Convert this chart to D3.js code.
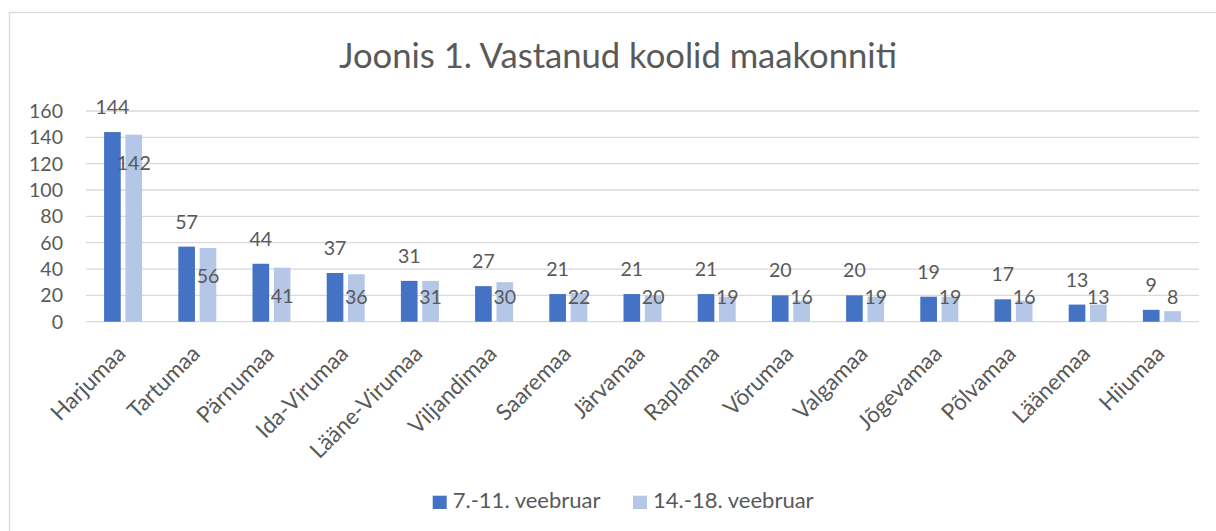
<!DOCTYPE html>
<html>
<head>
<meta charset="utf-8">
<script src="https://cdn.jsdelivr.net/npm/d3@7"></script>
<style>
  body { margin: 0; background: #fff; }
  svg text { font-family: Lato, "Open Sans", sans-serif; fill: #595959; }
</style>
</head>
<body>
<svg id="chart" width="1216" height="531"></svg>
<script>
// data
let categories = ['Harjumaa', 'Tartumaa', 'Pärnumaa', 'Ida-Virumaa', 'Lääne-Virumaa', 'Viljandimaa',
    'Saaremaa', 'Järvamaa', 'Raplamaa', 'Võrumaa', 'Valgamaa', 'Jõgevamaa', 'Põlvamaa', 'Läänemaa', 'Hiiumaa']
let week1 = [144, 57, 44, 37, 31, 27, 21, 21, 21, 20, 20, 19, 17, 13, 9]
let week2 = [142, 56, 41, 36, 31, 30, 22, 20, 19, 16, 19, 19, 16, 13, 8]
let seriesNames = ['7.-11. veebruar', '14.-18. veebruar']
let yTicks = [0, 20, 40, 60, 80, 100, 120, 140, 160]
let title = 'Joonis 1. Vastanud koolid maakonniti'

let colors = ['#4472C4', '#B4C7E7']

let svg = d3.select('#chart')

// pick a font size so a string gets a wanted width
fitSize = (str, target) => {
    let t = svg.append('text').attr('font-size', 100).text(str)
    let w = t.node().getComputedTextLength()
    t.remove()
    return 100 * target / w
}

let labelSize = fitSize('160', 34)
let catSize = labelSize * 1.15
let titleSize = fitSize(title, 558)
let legendSize = fitSize(seriesNames[0], 148)

// chart border (only top and left are in view)
svg.append('rect')
    .attr('x', 9.5).attr('y', 12.5)
    .attr('width', 1300).attr('height', 600)
    .attr('fill', 'none')
    .attr('stroke', '#D9D9D9')
    .attr('stroke-width', 1.3)

svg.append('text')
    .attr('x', 618).attr('y', 68)
    .attr('text-anchor', 'middle')
    .attr('font-size', titleSize)
    .text(title)

let x = d3.scaleBand()
    .domain(categories)
    .range([86, 1199])

let x1 = d3.scaleBand()
    .domain([0, 1])
    .range([x.bandwidth() / 2 - 19, x.bandwidth() / 2 + 19])
    .paddingInner(0.22)

let y = d3.scaleLinear()
    .domain([0, 160])
    .range([321.7, 111])

// gridlines
svg.append('g')
    .selectAll('line')
    .data(yTicks)
    .enter().append('line')
    .attr('x1', 86).attr('x2', 1199)
    .attr('y1', d => y(d)).attr('y2', d => y(d))
    .attr('stroke', '#D9D9D9')
    .attr('stroke-width', 1.3)

// y axis labels
svg.append('g')
    .selectAll('text')
    .data(yTicks)
    .enter().append('text')
    .attr('x', 63)
    .attr('y', d => y(d))
    .attr('dy', '0.36em')
    .attr('text-anchor', 'end')
    .attr('font-size', labelSize)
    .text(d => d)

let rows = categories.map((c, i) => ({ cat: c, vals: [week1[i], week2[i]] }))

let group = svg.selectAll('.cat')
    .data(rows)
    .enter().append('g')
    .attr('class', 'cat')
    .attr('transform', d => `translate(${x(d.cat)},0)`)

group.selectAll('rect')
    .data(d => d.vals)
    .enter().append('rect')
    .attr('x', (d, i) => x1(i))
    .attr('width', x1.bandwidth())
    .attr('y', d => y(d))
    .attr('height', d => y(0) - y(d))
    .attr('fill', (d, i) => colors[i])

// value labels: first series above the bar, second inside the top
group.selectAll('.val')
    .data(d => d.vals)
    .enter().append('text')
    .attr('class', 'val')
    .attr('x', (d, i) => x1(i) + x1.bandwidth() / 2)
    .attr('y', (d, i) => i == 0 ? y(d) - 25 : Math.min(y(d) + 28, 297))
    .attr('dy', '0.36em')
    .attr('text-anchor', 'middle')
    .attr('font-size', labelSize)
    .text(d => d)

// category labels at 45 degrees
svg.append('g')
    .selectAll('text')
    .data(categories)
    .enter().append('text')
    .attr('transform', d => `translate(${x(d) + x.bandwidth() / 2 + 4},355) rotate(-45)`)
    .attr('text-anchor', 'end')
    .attr('font-size', catSize)
    .text(d => d)

// legend
let legendX = [432.7, 633]
let legend = svg.selectAll('.legend')
    .data(seriesNames)
    .enter().append('g')
    .attr('class', 'legend')
    .attr('transform', (d, i) => `translate(${legendX[i]},495.7)`)

legend.append('rect')
    .attr('width', 14).attr('height', 13.3)
    .attr('fill', (d, i) => colors[i])

legend.append('text')
    .attr('x', 20).attr('y', 12.6)
    .attr('font-size', legendSize)
    .text(d => d)
</script>
</body>
</html>
